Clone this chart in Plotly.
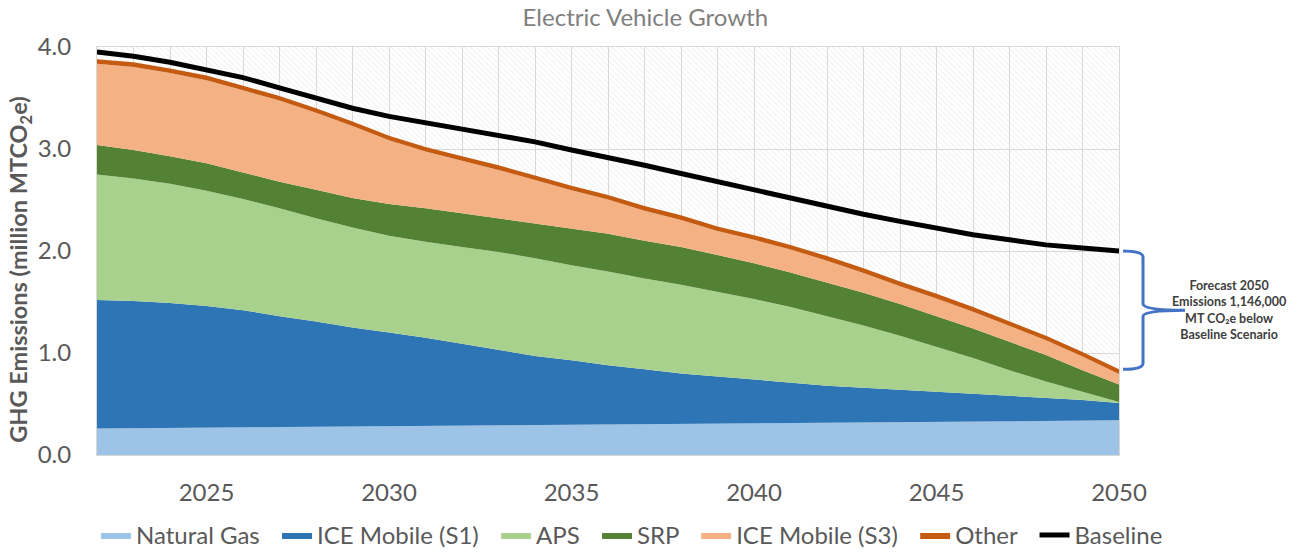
import plotly.graph_objects as go

years = list(range(2022, 2051))

natural_gas = [0.260, 0.263, 0.266, 0.270, 0.273, 0.276, 0.279, 0.282, 0.285, 0.288,
               0.291, 0.294, 0.297, 0.299, 0.302, 0.304, 0.307, 0.309, 0.311, 0.314,
               0.317, 0.320, 0.322, 0.325, 0.328, 0.331, 0.334, 0.337, 0.340]
ice_s1 = [1.260, 1.247, 1.224, 1.190, 1.147, 1.084, 1.031, 0.968, 0.915, 0.862,
          0.799, 0.736, 0.673, 0.631, 0.578, 0.536, 0.493, 0.461, 0.429, 0.396,
          0.363, 0.340, 0.318, 0.295, 0.272, 0.249, 0.226, 0.203, 0.170]
aps = [1.23, 1.20, 1.17, 1.13, 1.09, 1.06, 1.01, 0.98, 0.95, 0.94,
       0.95, 0.96, 0.96, 0.93, 0.92, 0.89, 0.87, 0.83, 0.79, 0.74,
       0.68, 0.61, 0.53, 0.44, 0.35, 0.25, 0.16, 0.08, 0.01]
srp = [0.29, 0.28, 0.27, 0.27, 0.26, 0.26, 0.28, 0.29, 0.31, 0.33,
       0.33, 0.33, 0.34, 0.36, 0.37, 0.37, 0.37, 0.36, 0.35, 0.34,
       0.33, 0.32, 0.31, 0.30, 0.29, 0.28, 0.26, 0.21, 0.17]
ice_s3 = [0.795, 0.815, 0.815, 0.815, 0.805, 0.795, 0.755, 0.705, 0.625, 0.555,
          0.515, 0.475, 0.425, 0.375, 0.335, 0.295, 0.265, 0.235, 0.230, 0.225,
          0.215, 0.195, 0.175, 0.175, 0.165, 0.155, 0.145, 0.135, 0.105]
other = [0.045, 0.045, 0.045, 0.045, 0.045, 0.045, 0.045, 0.045, 0.045, 0.045,
         0.045, 0.045, 0.045, 0.045, 0.045, 0.045, 0.045, 0.045, 0.045, 0.045,
         0.045, 0.045, 0.045, 0.045, 0.045, 0.045, 0.045, 0.045, 0.045]
baseline = [3.95, 3.91, 3.85, 3.78, 3.70, 3.60, 3.50, 3.40, 3.32, 3.26,
            3.20, 3.14, 3.07, 2.99, 2.92, 2.84, 2.76, 2.68, 2.59, 2.51,
            2.43, 2.36, 2.29, 2.22, 2.16, 2.11, 2.06, 2.03, 2.00]

y_range = [0, 4]
reduction_lines = ["Forecast 2050", "Emissions 1,146,000", "MT CO₂e below", "Baseline Scenario"]

series = [
    ("Natural Gas", natural_gas, "#9DC3E6"),
    ("ICE Mobile (S1)", ice_s1, "#2E75B6"),
    ("APS", aps, "#A9D18E"),
    ("SRP", srp, "#548235"),
    ("ICE Mobile (S3)", ice_s3, "#F4B183"),
    ("Other", other, "#C55A11"),
]

FONT = "Lato"
GREY = "#595959"
PAD = "\u00a0\u00a0"

fig = go.Figure()

# hatched plot-area background
fig.add_trace(go.Scatter(
    x=[years[0], years[-1], years[-1], years[0], years[0]],
    y=[y_range[0], y_range[0], y_range[1], y_range[1], y_range[0]],
    mode="lines", line=dict(width=0), fill="toself",
    fillcolor="rgba(0,0,0,0)",
    fillpattern=dict(shape="\\", fgcolor="#cfcfcf", bgcolor="rgba(0,0,0,0)",
                     size=4, solidity=0.2),
    showlegend=False, hoverinfo="skip"))

for name, vals, col in series:
    fig.add_trace(go.Scatter(
        x=years, y=vals, name=name + PAD, mode="lines", stackgroup="one",
        line=dict(width=0, color=col), fillcolor=col))

fig.add_trace(go.Scatter(
    x=years, y=baseline, name="Baseline", mode="lines",
    line=dict(color="black", width=5)))

# brace annotation
total_2050 = sum(s[1][-1] for s in series)
ytop = baseline[-1]
ybot = total_2050
ymid = (ytop + ybot) / 2
x0, x1, x2 = 1.004, 1.0235, 1.0646
r = 0.06
path = (f"M {x0},{ytop} Q {x1},{ytop} {x1},{ytop - r} "
        f"L {x1},{ymid + r} Q {x1},{ymid} {x2},{ymid} "
        f"Q {x1},{ymid} {x1},{ymid - r} "
        f"L {x1},{ybot + r} Q {x1},{ybot} {x0},{ybot}")
fig.add_shape(type="path", path=path, xref="paper", yref="y",
              line=dict(color="#4472C4", width=3))
fig.add_annotation(x=1.108, y=ymid, xref="paper", yref="y",
                   text="<br>".join("<b>" + t + "</b>" for t in reduction_lines),
                   showarrow=False, align="center", xanchor="center", yanchor="middle",
                   font=dict(family=FONT, size=12.5, color="#404040"))

# y-axis title as rotated annotation
fig.add_annotation(x=-0.075, y=0.455, xref="paper", yref="paper",
                   text="<b>GHG Emissions (million MTCO<sub>2</sub>e)</b>",
                   textangle=-90, showarrow=False, xanchor="center", yanchor="middle",
                   font=dict(family=FONT, size=23.5, color=GREY))

fig.update_layout(
    width=1309, height=554,
    margin=dict(l=97, r=190, t=47, b=99, autoexpand=False),
    paper_bgcolor="white", plot_bgcolor="white",
    font=dict(family=FONT, color=GREY),
    title=dict(text="Electric Vehicle Growth", x=0.493, xref="container",
               y=1 - 18 / 554, yref="container", yanchor="middle", xanchor="center",
               font=dict(family=FONT, size=24, color="#7f7f7f")),
    xaxis=dict(range=[years[0], years[-1]], dtick=5, tick0=2025,
               showgrid=True, gridcolor="#d9d9d9", gridwidth=1,
               minor=dict(dtick=1, tick0=2022, showgrid=True, gridcolor="#d9d9d9", gridwidth=1),
               showline=True, linecolor="#d9d9d9", mirror=True,
               ticks="", ticklabelstandoff=16, automargin=False,
               tickfont=dict(family=FONT, size=24, color=GREY), zeroline=False),
    yaxis=dict(range=y_range, dtick=1, tickformat=".1f",
               showgrid=True, gridcolor="#d9d9d9", gridwidth=1,
               showline=True, linecolor="#d9d9d9", mirror=True,
               ticks="", ticklabelstandoff=20, automargin=False,
               tickfont=dict(family=FONT, size=24, color=GREY), zeroline=False),
    legend=dict(orientation="h", xref="paper", yref="paper",
                x=-0.001, xanchor="left", y=-0.197, yanchor="middle",
                traceorder="normal", font=dict(family=FONT, size=24, color=GREY),
                itemwidth=30, tracegroupgap=0),
    showlegend=True,
)

fig.write_html("out.html", config={"displayModeBar": False},
               post_script="document.body.style.margin='0';")
